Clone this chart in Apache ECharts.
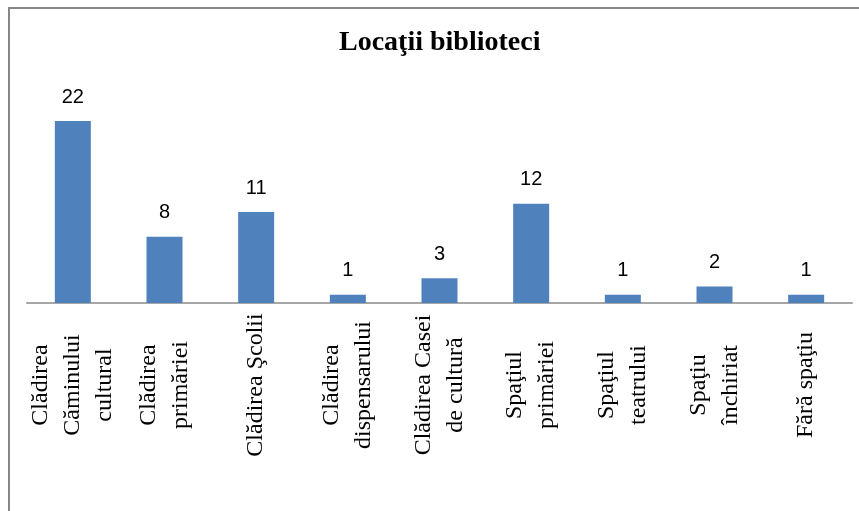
<!DOCTYPE html>
<html>
<head>
<meta charset="utf-8">
<script src="https://cdn.jsdelivr.net/npm/echarts@6/dist/echarts.min.js"></script>
<style>
  html, body { margin: 0; padding: 0; background: #fff; }
  #chart { width: 859px; height: 511px; }
</style>
</head>
<body>
<div id="chart"></div>
<script>
// date
const categories = [
  'Clădirea\nCăminului\ncultural',
  'Clădirea\nprimăriei',
  'Clădirea Şcolii',
  'Clădirea\ndispensarului',
  'Clădirea Casei\nde cultură',
  'Spaţiul\nprimăriei',
  'Spaţiul\nteatrului',
  'Spaţiu\nînchiriat',
  'Fără spaţiu'
];
const values = [22, 8, 11, 1, 3, 12, 1, 2, 1];

const chart = echarts.init(document.getElementById('chart'));

const option = {
  backgroundColor: '#fff',
  animation: false,
  title: {
    text: 'Locaţii biblioteci',
    left: 334,
    top: 24,
    textStyle: {
      fontFamily: 'Liberation Serif',
      fontWeight: 'bold',
      fontSize: 28,
      color: '#000'
    }
  },
  // chenarul graficului (doar stânga si sus)
  graphic: [
    { type: 'line', shape: { x1: 9, y1: 8, x2: 859, y2: 8 }, style: { stroke: '#868686', lineWidth: 2 } },
    { type: 'line', shape: { x1: 9, y1: 7, x2: 9, y2: 511 }, style: { stroke: '#868686', lineWidth: 2 } }
  ],
  grid: {
    left: 27,
    right: 7,
    top: 121,
    bottom: 208
  },
  xAxis: {
    type: 'category',
    data: categories,
    axisLine: { lineStyle: { color: '#a6a6a6', width: 2 } },
    axisTick: { show: false },
    axisLabel: {
      interval: 0,
      rotate: 90,
      margin: 8,
      formatter: function (v) {
        return v.split('\n').map(s => '{c|' + s + '}').join('\n');
      },
      rich: {
        c: {
          width: 148,
          align: 'center',
          fontFamily: 'Liberation Serif',
          fontSize: 24,
          lineHeight: 32,
          color: '#000'
        }
      }
    }
  },
  yAxis: {
    type: 'value',
    min: 0,
    max: 22,
    show: false,
    splitLine: { show: false }
  },
  series: [
    {
      type: 'bar',
      data: values,
      barWidth: 36,
      itemStyle: { color: '#4f81bd' },
      label: {
        show: true,
        position: 'top',
        distance: 14,
        fontFamily: 'Liberation Sans',
        fontSize: 20,
        color: '#000'
      }
    }
  ]
};

chart.setOption(option);
</script>
</body>
</html>
